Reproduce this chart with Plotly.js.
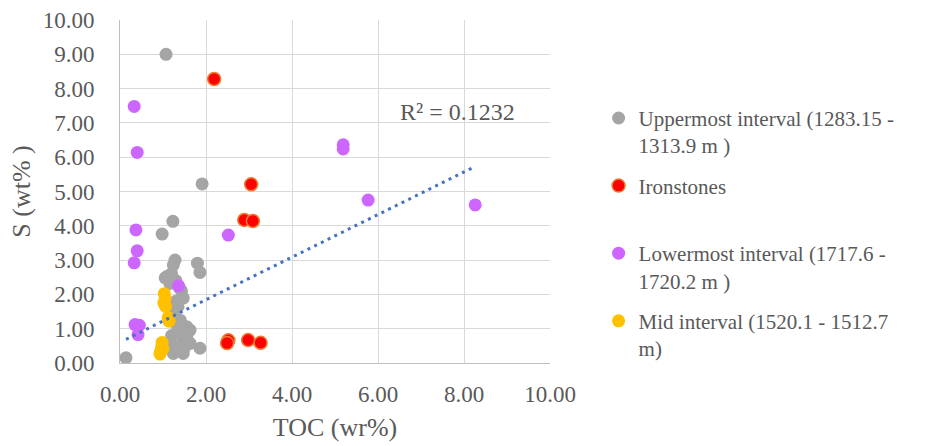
<!DOCTYPE html>
<html>
<head>
<meta charset="utf-8">
<script src="https://cdn.plot.ly/plotly-3.0.1.min.js"></script>
<style>html,body{margin:0;padding:0;background:#fff;}#chart{width:931px;height:446px;}</style>
</head>
<body>
<div id="chart"></div>
<script>
// Uppermost interval (grey)
const upperTOC = [1.07, 1.91, 1.23, 0.98, 1.80, 1.86, 1.28, 1.24, 1.09, 1.20, 1.05, 1.16, 1.30, 1.38, 1.43, 1.47, 1.35, 1.30, 1.25, 1.40, 1.33, 1.55, 1.63, 1.47, 1.32, 1.24, 1.47, 1.86, 1.63, 1.20, 1.50, 1.40, 1.15, 1.55, 1.35, 0.14];
const upperS   = [9.00, 5.22, 4.13, 3.76, 2.91, 2.64, 3.00, 2.86, 2.52, 2.61, 2.48, 2.32, 2.40, 2.20, 2.10, 1.89, 1.64, 1.80, 1.50, 1.25, 1.10, 1.06, 0.96, 0.67, 0.48, 0.28, 0.28, 0.43, 0.57, 0.80, 0.45, 0.90, 0.60, 0.75, 0.35, 0.15];
// Ironstones (red)
const ironTOC = [2.19, 3.05, 2.89, 3.09, 2.52, 2.49, 2.98, 3.27];
const ironS   = [8.28, 5.21, 4.17, 4.14, 0.66, 0.58, 0.67, 0.59];
// Lowermost interval (purple)
const lowerTOC = [0.33, 0.40, 5.19, 5.19, 5.77, 8.26, 0.37, 2.52, 0.40, 0.33, 1.36, 0.35, 0.45, 0.42];
const lowerS   = [7.48, 6.14, 6.36, 6.24, 4.75, 4.61, 3.88, 3.73, 3.27, 2.92, 2.25, 1.12, 1.10, 0.83];
// Mid interval (yellow)
const midTOC = [1.03, 1.05, 1.02, 1.06, 1.12, 1.14, 0.98, 0.97, 0.95, 0.93, 1.00];
const midS   = [2.02, 1.88, 1.75, 1.65, 1.32, 1.22, 0.60, 0.48, 0.36, 0.26, 0.42];
// Linear trendline end points (as drawn)
const trendTOC = [0.14, 8.26];
const trendS   = [0.69, 5.73];
const seriesNames = [
  'Uppermost interval (1283.15 -<br>1313.9 m )',
  'Ironstones<br> ',
  'Lowermost interval (1717.6 -<br>1720.2 m )',
  'Mid interval (1520.1 - 1512.7<br>m)'
];
const r2Label = 'R² = 0.1232';

const FONT = 'Liberation Serif';
const TXT = '#595959';

const traces = [
  {x: upperTOC, y: upperS, name: seriesNames[0], legendgroup: 'a', type: 'scatter', mode: 'markers',
   marker: {size: 13, color: '#a5a5a5'}},
  {x: ironTOC, y: ironS, name: seriesNames[1], legendgroup: 'b', type: 'scatter', mode: 'markers',
   marker: {size: 13, color: '#ff0000', line: {color: '#ed7d31', width: 1.5}}},
  {x: lowerTOC, y: lowerS, name: seriesNames[2], legendgroup: 'c', type: 'scatter', mode: 'markers',
   marker: {size: 13, color: '#cc66ff'}},
  {x: midTOC, y: midS, name: seriesNames[3], legendgroup: 'd', type: 'scatter', mode: 'markers',
   marker: {size: 13, color: '#ffc000'}},
  {x: trendTOC, y: trendS, type: 'scatter', mode: 'lines', showlegend: false, hoverinfo: 'skip',
   line: {color: '#4472c4', width: 3, dash: '3px,4.5px'}}
];

const layout = {
  width: 931, height: 446,
  margin: {l: 120, r: 381, t: 20, b: 83},
  paper_bgcolor: '#fff', plot_bgcolor: '#fff',
  font: {family: FONT, color: TXT, size: 22},
  showlegend: true,
  legend: {x: 1.113, xanchor: 'left', y: 0.773, yanchor: 'top', valign: 'top',
           tracegroupgap: 10, font: {family: FONT, size: 21, color: TXT}, bgcolor: 'rgba(0,0,0,0)'},
  xaxis: {range: [0, 10], dtick: 2, tick0: 0, tickformat: '.2f', showgrid: true, gridcolor: '#d9d9d9', gridwidth: 1,
          showline: true, linecolor: '#bfbfbf', linewidth: 1, zeroline: false, ticks: '', ticklabelstandoff: 10,
          tickfont: {family: FONT, size: 23, color: TXT},
          title: {text: 'TOC (wr%)', font: {family: FONT, size: 26, color: TXT}, standoff: 12}},
  yaxis: {range: [0, 10], dtick: 1, tick0: 0, tickformat: '.2f', showgrid: true, gridcolor: '#d9d9d9', gridwidth: 1,
          showline: true, linecolor: '#bfbfbf', linewidth: 1, zeroline: false, ticks: '', ticklabelstandoff: 20,
          tickfont: {family: FONT, size: 23, color: TXT},
          title: {text: 'S (wt% )', font: {family: FONT, size: 26, color: TXT}, standoff: 4}},
  annotations: [{x: 7.84, y: 7.33, xref: 'x', yref: 'y', text: r2Label, showarrow: false,
                 font: {family: FONT, size: 24, color: TXT}}]
};

Plotly.newPlot('chart', traces, layout, {staticPlot: true, displayModeBar: false});
</script>
</body>
</html>
